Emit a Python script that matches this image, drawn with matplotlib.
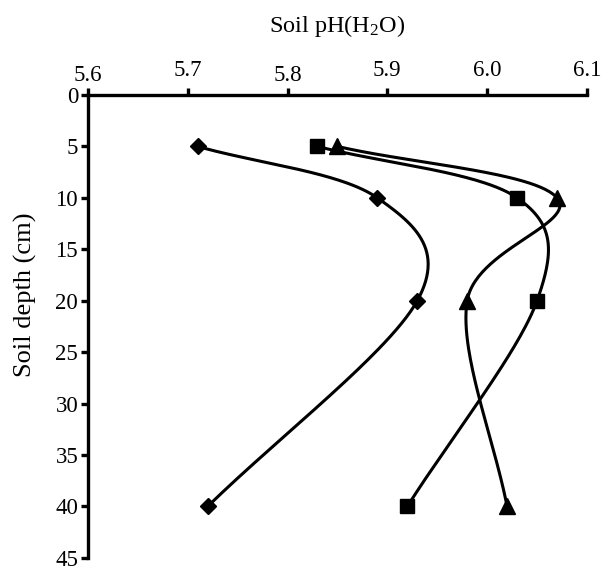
import matplotlib
matplotlib.use("Agg")
import matplotlib.pyplot as plt
import numpy as np
from matplotlib.transforms import ScaledTranslation

plt.rcParams["font.family"] = ["Liberation Serif", "DejaVu Serif"]
plt.rcParams["mathtext.fontset"] = "custom"
plt.rcParams["mathtext.rm"] = "Liberation Serif"
plt.rcParams["mathtext.it"] = "Liberation Serif:italic"

# depths (cm) and soil pH per series
depth = [5, 10, 20, 40]
ph_diamond = [5.71, 5.89, 5.93, 5.72]
ph_square = [5.83, 6.03, 6.05, 5.92]
ph_triangle = [5.85, 6.07, 5.98, 6.02]

x_ticks = [5.6, 5.7, 5.8, 5.9, 6.0, 6.1]
x_ticklabels = ["5.6", "5.7", "5.8", "5.9", "6.0", "6.1"]
y_ticks = [0, 5, 10, 15, 20, 25, 30, 35, 40, 45]

XLIM = (5.6, 6.1)
YLIM = (0, 45)


def catmull_rom(x, y, sx, sy, n=60):
    """Uniform Catmull-Rom through (x, y), worked out in screen-scaled units."""
    pts = np.column_stack([np.asarray(x, float) * sx, np.asarray(y, float) * sy])
    # mirrored end points so the curve starts/ends on the outer markers
    pts = np.vstack([2 * pts[0] - pts[1], pts, 2 * pts[-1] - pts[-2]])
    t = np.linspace(0, 1, n)[:, None]
    out = []
    for i in range(1, len(pts) - 2):
        p0, p1, p2, p3 = pts[i - 1], pts[i], pts[i + 1], pts[i + 2]
        c1 = p1 + (p2 - p0) / 6
        c2 = p2 - (p3 - p1) / 6
        b = ((1 - t) ** 3 * p1 + 3 * (1 - t) ** 2 * t * c1
             + 3 * (1 - t) * t ** 2 * c2 + t ** 3 * p2)
        out.append(b)
    c = np.vstack(out)
    return c[:, 0] / sx, c[:, 1] / sy


fig = plt.figure(figsize=(6.02, 5.67), dpi=100)
ax = fig.add_axes([0.146, 0.016, 0.829, 0.8165])

# screen scale: axes size in pixels per data unit
sx = 499 / (XLIM[1] - XLIM[0])
sy = 463 / (YLIM[1] - YLIM[0])

series = [
    (ph_diamond, "D", 8.5),
    (ph_square, "s", 10),
    (ph_triangle, "^", 11),
]
for ph, marker, ms in series:
    cx, cy = catmull_rom(ph, depth, sx, sy)
    ax.plot(cx, cy, color="black", lw=2.2, solid_capstyle="round", zorder=2)
    ax.plot(ph, depth, linestyle="none", marker=marker, ms=ms,
            color="black", zorder=3, clip_on=False)

ax.set_xlim(*XLIM)
ax.set_ylim(YLIM[1], YLIM[0])
ax.set_xticks(x_ticks)
ax.set_xticklabels(x_ticklabels)
ax.set_yticks(y_ticks)
ax.xaxis.tick_top()

for side in ("right", "bottom"):
    ax.spines[side].set_visible(False)
for side in ("left", "top"):
    ax.spines[side].set_linewidth(2.4)
ax.tick_params(axis="both", which="major", direction="out", length=5,
               width=2.4, labelsize=16.5, pad=2)
ax.tick_params(axis="x", pad=5)

# the original has 5.6 and 5.8 sitting a little lower than the rest
for i in (0, 2):
    lbl = ax.xaxis.get_major_ticks()[i].label2
    lbl.set_transform(lbl.get_transform()
                      + ScaledTranslation(0, -0.05, fig.dpi_scale_trans))

ax.set_xlabel("Soil pH(H$_2$O)", fontsize=17.5)
ax.xaxis.set_label_position("top")
ax.xaxis.set_label_coords(0.5, 1.149)
ax.xaxis.label.set_verticalalignment("center")

ax.set_ylabel("Soil depth (cm)", fontsize=19)
ax.yaxis.set_label_coords(-0.126, 0.569)
ax.yaxis.label.set_verticalalignment("center")

fig.savefig("out.png", dpi=100)
